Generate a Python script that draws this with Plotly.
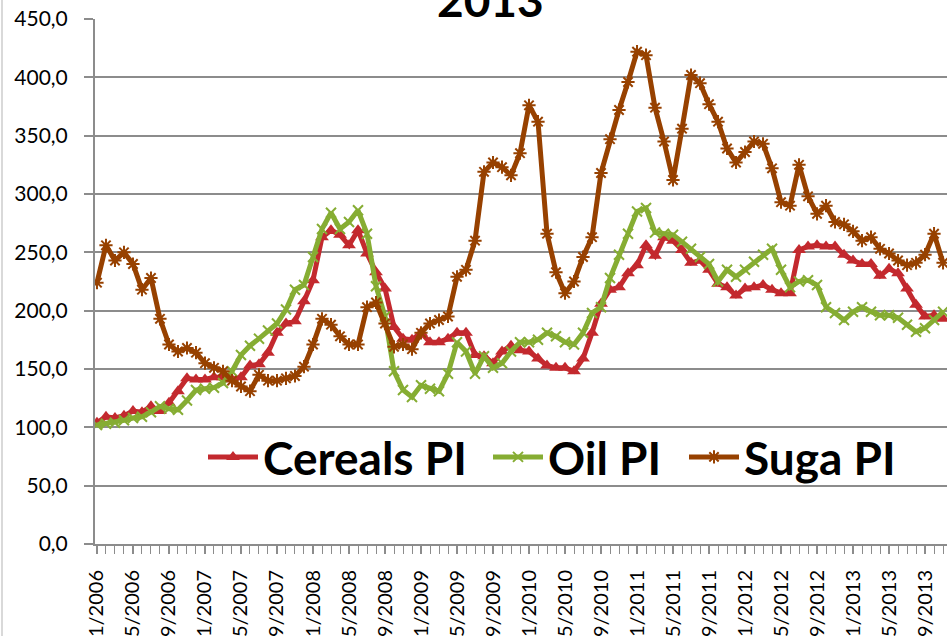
import plotly.graph_objects as go

years = [2006, 2007, 2008, 2009, 2010, 2011, 2012, 2013]
months = [f"{m}/{y}" for y in years for m in range(1, 13)][:95]
tick_labels = months[::4]

cereals = [104,109,108,110,114,113,118,114,121,131,
           142,141,141,143,143,141,143,153,154,164,
           181,189,191,208,226,263,269,265,256,269,
           249,233,219,186,176,175,181,173,173,176,
           181,181,162,161,155,165,170,166,165,159,
           153,151,151,148,159,181,206,218,220,232,
           239,256,247,263,260,252,241,243,235,223,
           220,213,219,220,222,218,215,215,252,255,
           256,255,255,248,243,240,240,230,236,232,
           219,205,195,196,193]

oil = [102,103,104,106,108,109,113,118,116,115,
       123,132,133,134,138,148,162,170,176,183,
       189,201,218,222,246,270,284,270,276,286,
       266,221,195,148,132,126,136,133,131,146,
       173,165,146,161,151,155,165,173,173,175,
       181,178,173,171,181,198,203,228,248,266,
       285,288,267,266,265,259,253,246,240,225,
       235,229,235,242,248,253,235,220,225,226,
       222,203,198,192,199,203,199,196,196,194,
       188,182,185,192,199]

suga = [224,256,243,250,240,218,228,193,171,165,
        168,164,155,151,148,140,135,131,145,140,
        140,142,144,152,171,193,188,178,171,171,
        203,207,189,169,171,167,181,189,192,195,
        229,235,260,319,327,323,316,335,376,362,
        266,233,215,225,246,263,318,347,372,396,
        422,419,374,345,312,356,402,395,377,362,
        339,327,336,345,343,322,293,290,325,298,
        283,290,276,274,268,260,263,253,249,243,
        239,241,248,266,241]

series_names = ["Cereals PI", "Oil PI", "Suga PI"]
title_text = "2013"

FONT = "Lato, 'Open Sans', sans-serif"
GRID = "#8c8c8c"

fig = go.Figure()
fig.add_trace(go.Scatter(
    x=months, y=cereals, name=series_names[0], mode="lines+markers",
    line=dict(color="#C3292E", width=5),
    marker=dict(symbol="triangle-up", size=12, color="#C3292E"),
    cliponaxis=True, legend="legend"))
fig.add_trace(go.Scatter(
    x=months, y=oil, name=series_names[1], mode="lines+markers",
    line=dict(color="#86AD33", width=5),
    marker=dict(symbol="x-thin-open", size=10, color="#86AD33",
                line=dict(width=2, color="#86AD33")),
    cliponaxis=True, legend="legend2"))
fig.add_trace(go.Scatter(
    x=months, y=suga, name=series_names[2], mode="lines+markers",
    line=dict(color="#974100", width=5),
    marker=dict(symbol="asterisk-open", size=11, color="#974100",
                line=dict(width=2, color="#974100")),
    cliponaxis=True, legend="legend3"))

L, T, W, H = 95, 19, 947, 636
B = 544
pw = W - L
ph = B - T


def legend_at(px):
    return dict(
        orientation="h",
        x=(px - L) / pw, xanchor="left",
        y=(B - 457) / ph, yanchor="middle",
        bgcolor="rgba(0,0,0,0)",
        font=dict(family=FONT, size=46, weight="bold", color="black"),
        itemwidth=50,
    )


fig.update_layout(
    width=W, height=H,
    margin=dict(l=L, r=0, t=T, b=H - B, pad=0, autoexpand=False),
    paper_bgcolor="white", plot_bgcolor="white",
    separators=",.",
    font=dict(family=FONT, color="black"),
    showlegend=True,
    legend=legend_at(203),
    legend2=legend_at(488),
    legend3=legend_at(684),
    xaxis=dict(
        type="category",
        automargin=False,
        range=[-0.22, 94.44],
        tickmode="array", tickvals=tick_labels, ticktext=tick_labels,
        tickangle=-90,
        ticks="outside", ticklen=8, tickcolor=GRID, tickwidth=1.5,
        minor=dict(ticks="outside", ticklen=8, tickcolor=GRID, tickwidth=1,
                   tickmode="array", tickvals=months),
        showline=True, linecolor=GRID, linewidth=2,
        showgrid=False, zeroline=False,
        tickfont=dict(family=FONT, size=20, color="black"),
        ticklabelstandoff=8,
    ),
    yaxis=dict(
        automargin=False,
        range=[0, 450], dtick=50, tickformat=".1f",
        ticks="outside", ticklen=9, tickcolor=GRID, tickwidth=1.5,
        showline=True, linecolor=GRID, linewidth=2,
        showgrid=True, gridcolor=GRID, gridwidth=1.5,
        zeroline=False,
        tickfont=dict(family=FONT, size=21, color="black"),
        ticklabelstandoff=12,
    ),
    annotations=[dict(
        text=title_text, xref="paper", yref="paper",
        x=(490 - L) / pw, y=(B - 29) / ph, xanchor="center", yanchor="bottom",
        showarrow=False,
        font=dict(family=FONT, size=46, weight="bold", color="black"),
    )],
    shapes=[dict(
        type="line", xref="paper", yref="paper",
        x0=(2 - L) / pw, x1=(2 - L) / pw, y0=(B - 0) / ph, y1=(B - H) / ph,
        line=dict(color="#d9d9d9", width=2),
    )],
)

fig.write_html("out.html", config={"displayModeBar": False},
               post_script="document.body.style.margin='0';")
